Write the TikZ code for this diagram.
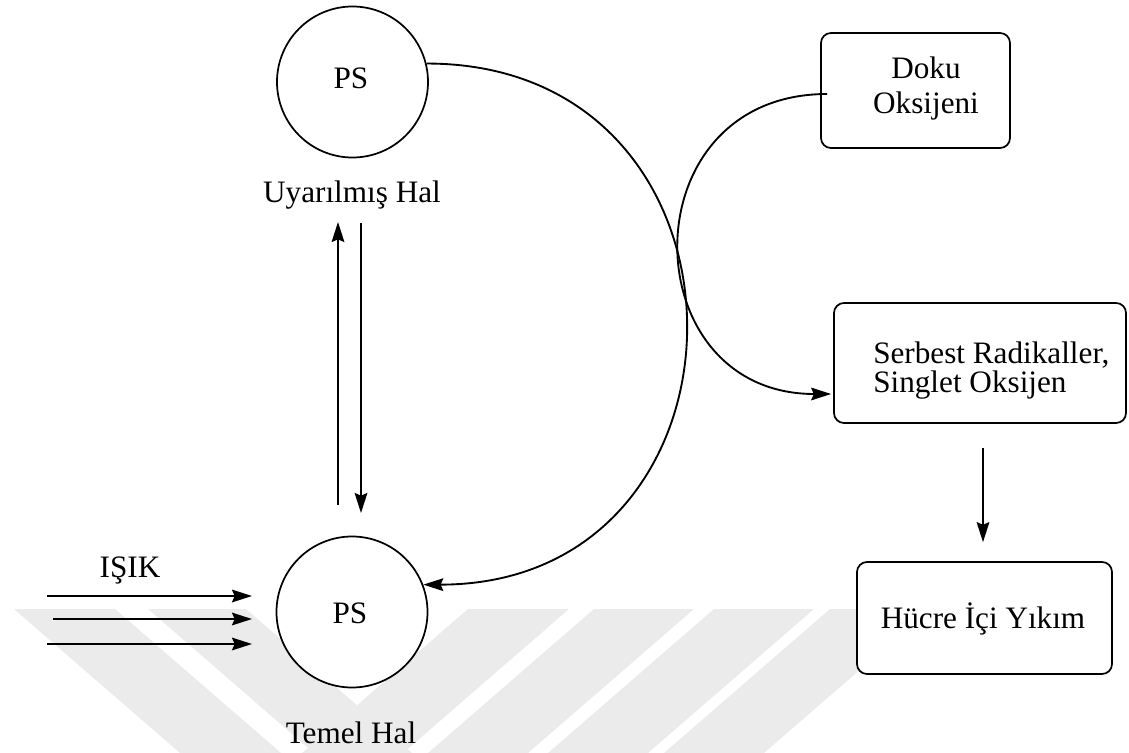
\documentclass[tikz,border=0pt]{standalone}
\usepackage{fontspec}
\setmainfont{Liberation Serif}
\usetikzlibrary{arrows.meta,calc}
\begin{document}
\begin{tikzpicture}[x=0.75pt,y=-0.75pt,
  every node/.style={font=\fontsize{23.4}{28}\selectfont},
  state/.style={circle,draw,line width=1.3pt,fill=white,minimum size=113.25pt,inner sep=0pt},
  box/.style={draw,rounded corners=7.5pt,line width=1.3pt,fill=white,inner sep=0pt},
  lbl/.style={inner sep=0pt,anchor=base},
  arr/.style={line width=1.4pt,-{Stealth[length=15pt,width=9.5pt,inset=2pt]}},
  wm/.style={fill=black!8,draw=none}]
\useasboundingbox (0,0) rectangle (1129,753);
% watermark stripes
\fill[wm] (14,609) -- (115,609) -- (281,753) -- (180,753) -- cycle;
\fill[wm] (148,609) -- (246,609) -- (412,753) -- (314,753) -- cycle;
\fill[wm] (468,609) -- (569,609) -- (403,753) -- (302,753) -- cycle;
\fill[wm] (594,609) -- (694,609) -- (528,753) -- (428,753) -- cycle;
\fill[wm] (714,609) -- (814,609) -- (648,753) -- (548,753) -- cycle;
\fill[wm] (830,609) -- (930,609) -- (764,753) -- (664,753) -- cycle;
% nodes
\node[state] (ps1) at (352.5,82) {};
\node[lbl] (ps1t) at (351,88) {PS};
\node[lbl] (uyar) at (352,202) {Uyarılmış Hal};
\node[state] (ps2) at (352,612) {};
\node[lbl] (ps2t) at (350,623) {PS};
\node[lbl] (temel) at (351,743) {Temel Hal};
\node[lbl] (isik) at (130,577) {IŞIK};
\node[box,minimum width=141.75pt,minimum height=86.25pt] (doku) at (915.5,90.5) {};
\node[lbl] (doku1) at (926,78) {Doku};
\node[lbl] (doku2) at (926,113) {Oksijeni};
\node[box,minimum width=219pt,minimum height=90pt] (serb) at (980,363) {};
\node[lbl,anchor=base west] (serb1) at (873,363) {Serbest Radikaller,};
\node[lbl,anchor=base west] (serb2) at (873,392) {Singlet Oksijen};
\node[box,minimum width=191.25pt,minimum height=84pt] (huc) at (984.5,618) {};
\node[lbl] (huct) at (983,628) {Hücre İçi Yıkım};
% coordinates for free arrows
\coordinate (up1) at (338,505);
\coordinate (up2) at (338,222);
\coordinate (dn1) at (361,223);
\coordinate (dn2) at (361,513);
\coordinate (l1a) at (47,596);
\coordinate (l1b) at (252,596);
\coordinate (l2a) at (53,619);
\coordinate (l2b) at (252,619);
\coordinate (l3a) at (47,644);
\coordinate (l3b) at (252,644);
% connectors
\draw[arr] (up1) -- (up2);
\draw[arr] (dn1) -- (dn2);
\draw[arr] (l1a) -- (l1b);
\draw[arr] (l2a) -- (l2b);
\draw[arr] (l3a) -- (l3b);
\draw[arr] (ps1.14) to[out=0,in=0,looseness=1.7] (ps2.21);
\draw[arr] ($(doku.west)+(7,3.5)$) to[out=180,in=180,looseness=1.7] ($(serb.west)+(-2,31)$);
\draw[arr] ($(serb.south)+(3,24)$) -- ($(huc.north)+(-1.5,-19)$);
\end{tikzpicture}
\end{document}
